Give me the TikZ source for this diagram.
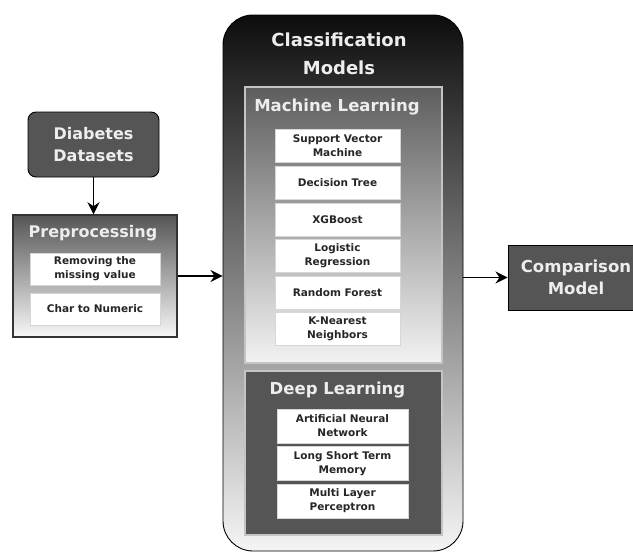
\documentclass[tikz,border=0pt]{standalone}
\usepackage{fontspec}
\setmainfont{DejaVu Sans}
\usetikzlibrary{arrows.meta}
\definecolor{boxgray}{HTML}{555555}
\definecolor{titlegray}{HTML}{EDEDED}
\definecolor{framegray}{HTML}{C4C4C4}
\definecolor{itemline}{HTML}{D6D6D6}
\begin{document}
\begin{tikzpicture}[x=1pt, y=-1pt,
    darkbox/.style={draw=black, line width=0.9pt, fill=boxgray, text=titlegray, align=center,
      inner sep=0pt, font=\bfseries\fontsize{16}{22}\selectfont},
    itembox/.style={draw=itemline, line width=0.8pt, fill=white, text=black!85, align=center,
      inner sep=0pt, minimum width=125pt, minimum height=33pt, font=\bfseries\fontsize{10.5}{14}\selectfont},
    titletext/.style={text=titlegray, align=center, inner sep=0pt, font=\bfseries\fontsize{16.5}{22}\selectfont},
    flow/.style={-{Stealth[length=12pt,width=12pt]}, line width=1.9pt}]
    \useasboundingbox (0,0) rectangle (633,552);
    \clip (0,0) rectangle (633,552);

    % Input side
    \node[darkbox, rounded corners=8pt, minimum width=131pt, minimum height=65pt] (data) at (93.5,144.5) {Diabetes\\Datasets};
    \node[draw=black!80, line width=1.4pt, top color=boxgray, bottom color=white!97!black,
      minimum width=164pt, minimum height=122pt] (pre) at (95,276) {};
    \node[titletext, font=\bfseries\fontsize{16}{22}\selectfont] (pretitle) at (93,233) {Preprocessing};
    \node[itembox, minimum width=130pt, minimum height=32pt] (missing) at (95,269) {Removing the\\missing value};
    \node[itembox, minimum width=130pt, minimum height=32pt] (numeric) at (95,309) {Char to Numeric};

    % Classification models
    \node[draw=black, line width=0.9pt, rounded corners=30pt, top color=black!95, bottom color=white!96!black,
      minimum width=240pt, minimum height=536pt] (cls) at (343,283) {};
    \node[titletext, font=\bfseries\fontsize{18}{28}\selectfont] (clstitle) at (339,54) {Classification\\Models};

    \node[draw=framegray, line width=1.8pt, top color=boxgray!95!white, bottom color=white!95!black,
      minimum width=197pt, minimum height=276pt] (ml) at (343.5,225) {};
    \node[titletext] (mltitle) at (337,107) {Machine Learning};
    \node[itembox] (svm) at (337.5,146) {Support Vector\\Machine};
    \node[itembox] (dt) at (337.5,183) {Decision Tree};
    \node[itembox] (xgb) at (337.5,219.5) {XGBoost};
    \node[itembox] (lr) at (337.5,256) {Logistic\\Regression};
    \node[itembox] (rf) at (337.5,292.5) {Random Forest};
    \node[itembox] (knn) at (337.5,329) {K-Nearest\\Neighbors};

    \node[draw=framegray, line width=1.8pt, fill=boxgray, minimum width=197pt, minimum height=164pt] (dl) at (343.5,453) {};
    \node[titletext] (dltitle) at (337.5,390) {Deep Learning};
    \node[itembox, minimum width=131pt, minimum height=34pt] (ann) at (342.5,426) {Artificial Neural\\Network};
    \node[itembox, minimum width=131pt, minimum height=34pt] (lstm) at (342.5,463.5) {Long Short Term\\Memory};
    \node[itembox, minimum width=131pt, minimum height=34pt] (mlp) at (342.5,501) {Multi Layer\\Perceptron};

    % Output side
    \node[darkbox, minimum width=136pt, minimum height=65pt, text width=136pt,
      font=\bfseries\fontsize{16.5}{22}\selectfont] (cmp) at (576,277.5) {Comparison\\Model};

    % Arrows
    \draw[flow] (data.south) -- (data.south |- pre.north);
    \draw[flow] (pre.east) -- (pre.east -| cls.west);
    \draw[flow] (cmp.west -| cls.east) -- (cmp.west);
\end{tikzpicture}
\end{document}
